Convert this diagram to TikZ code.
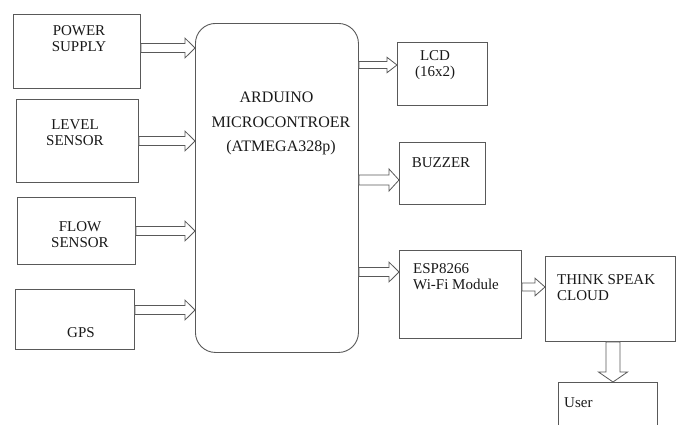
\documentclass[tikz,border=0pt]{standalone}
\usepackage{fontspec}
\setmainfont{Liberation Serif}
\newfontfamily\tnr{Liberation Serif}
\usetikzlibrary{calc}

\tikzset{
  blk/.style={draw=black!65, line width=0.9pt, anchor=north west, inner sep=0pt},
  lbl/.style={font=\tnr\fontsize{15}{16}\selectfont, text=black!90, inner sep=0pt},
  fat/.style={draw=black!65, line width=0.8pt, fill=white, line join=miter},
}
% hollow block arrow, left to right, at height #3, shaft half width #4
\newcommand{\fatright}[4]{%
  \draw[fat] let \p1=(#1), \p2=(#2), \p3=(0,#3) in
    (\x1,\y3+#4pt) -- (\x2-10pt,\y3+#4pt) -- (\x2-10pt,\y3+2.2*#4pt) -- (\x2,\y3)
    -- (\x2-10pt,\y3-2.2*#4pt) -- (\x2-10pt,\y3-#4pt) -- (\x1,\y3-#4pt) -- cycle;}

\begin{document}
\begin{tikzpicture}[x=1pt,y=-1pt]
  \useasboundingbox (0,0) rectangle (676,424);
  % boxes
  \foreach \n/\px/\py/\w/\h in {power/13/14/127/74, level/16/99/122/83, flow/17/197/118/67,
      gps/15/289/119/60, lcd/397/42/90/63, buzzer/399/142/86/62, esp/399/250/122/88,
      cloud/545/256/130/85, user/558/382/99/70}
    \node[blk, minimum width=\w pt, minimum height=\h pt] (\n) at (\px,\py) {};
  \node[blk, rounded corners=20pt, minimum width=163pt, minimum height=329pt] (arduino) at (195,23) {};
  % texts
  \node[lbl, align=center] at (79,38.5) {POWER\\SUPPLY};
  \node[lbl, align=center] at (75,133) {LEVEL\\SENSOR};
  \node[lbl, align=center] at (80,234.5) {FLOW\\SENSOR};
  \node[lbl] at (81,333) {GPS};
  \node[lbl, align=center, font=\tnr\fontsize{16}{24.5}\selectfont] at (281,123.5)
    {ARDUINO\hspace*{9pt}\\MICROCONTROER\\(ATMEGA328p)};
  \node[lbl, align=center] at (435,65.5) {LCD\\(16x2)};
  \node[lbl] at (441,163) {BUZZER};
  \node[lbl, align=left, anchor=west] at (413,277) {ESP8266\\Wi-Fi Module};
  \node[lbl, align=left, anchor=west] at (557,288) {THINK SPEAK\\CLOUD};
  \node[lbl, anchor=west] at (564,403) {User};
  % arrows
  \foreach \a/\b/\ya/\s in {power/arduino/48/4.5, level/arduino/141/4.5, flow/arduino/231/4.5,
      gps/arduino/310/4.5, arduino/lcd/65/3.5, arduino/buzzer/180/5, arduino/esp/272/4.5,
      esp/cloud/287/4}
    {\fatright{\a.east}{\b.west}{\ya}{\s}}
  \draw[fat] let \p1=(cloud.south), \p2=(user.north), \p3=(613,0) in
    (\x3-7pt,\y1) -- (\x3-7pt,\y2+10pt) -- (\x3-14.5pt,\y2+10pt) -- (\x3,\y2)
    -- (\x3+14.5pt,\y2+10pt) -- (\x3+7pt,\y2+10pt) -- (\x3+7pt,\y1) -- cycle;
\end{tikzpicture}
\end{document}
